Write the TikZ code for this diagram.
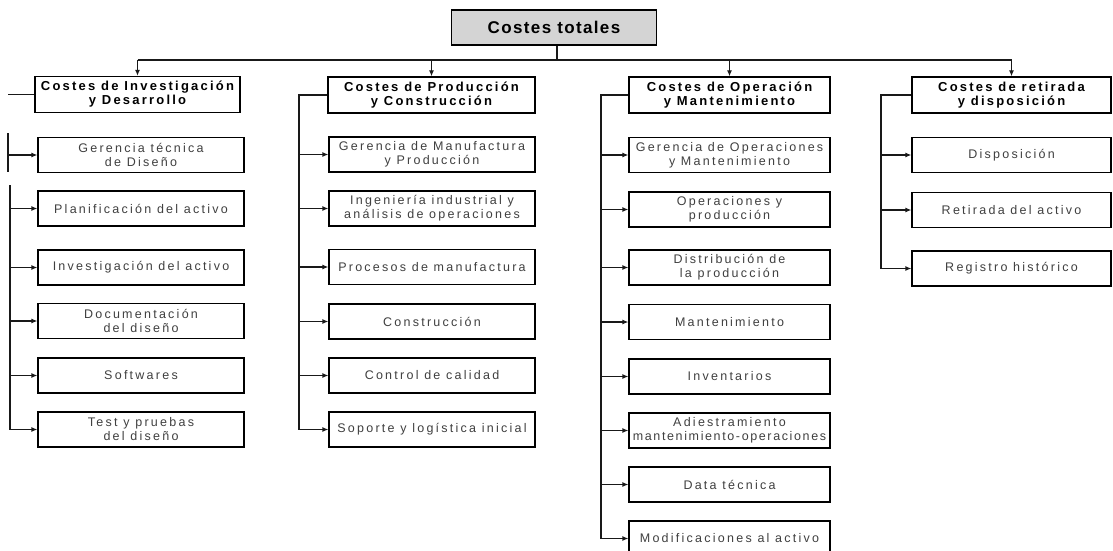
\documentclass[tikz,border=0pt]{standalone}
\usepackage{fontspec}
\setmainfont{Liberation Sans}
\newfontfamily\rootfont[LetterSpace=8]{Liberation Sans}
\newfontfamily\hdfont[LetterSpace=17]{Liberation Sans}
\newfontfamily\itfont[LetterSpace=18]{Liberation Sans}
\usetikzlibrary{arrows.meta}

\tikzset{
  topbox/.style={draw, line width=1.3pt, fill=black!17, inner sep=0pt,
    minimum width=205pt, minimum height=35pt,
    font=\rootfont\bfseries\fontsize{17}{19}\selectfont},
  headbox/.style={draw, line width=1.3pt, fill=white, inner sep=0pt,
    minimum height=36pt, align=center,
    font=\hdfont\bfseries\fontsize{13}{14}\selectfont},
  itembox/.style={draw, line width=1.2pt, fill=white, inner sep=0pt,
    minimum height=35pt, align=center, text=black!75,
    font=\itfont\fontsize{12.5}{14}\selectfont},
  conn/.style={line width=1.8pt, black!90},
  arr/.style={conn, -{Latex[length=6pt,width=5pt]}},
}

\begin{document}
\begin{tikzpicture}[x=1pt,y=-1pt]
\useasboundingbox (0,0) rectangle (1113,550);
\clip (0,0) rectangle (1113,550);

% root
\node[topbox] (top) at (554,27.5) {Costes totales};

% column headers
\node[headbox, minimum width=205pt] (h1) at (137.5,94.5) {Costes de Investigación\\y Desarrollo};
\node[headbox, minimum width=207pt] (h2) at (431.5,95) {Costes de Producción\\y Construcción};
\node[headbox, minimum width=201pt] (h3) at (729.5,95) {Costes de Operación\\y Mantenimiento};
\node[headbox, minimum width=199pt] (h4) at (1011.5,95) {Costes de retirada\\y disposición};

% column 1 items
\begin{scope}[every node/.style={itembox, minimum width=206pt}]
\node (c1a) at (141,155) {Gerencia técnica\\de Diseño};
\node (c1b) at (141,208.5) {Planificación del activo};
\node (c1c) at (141,267.5) {Investigación del activo};
\node (c1d) at (141,321) {Documentación\\del diseño};
\node (c1e) at (141,375.5) {Softwares};
\node (c1f) at (141,429.5) {Test y pruebas\\del diseño};
\end{scope}

% column 2 items
\begin{scope}[every node/.style={itembox, minimum width=206pt}]
\node (c2a) at (432,154.5) {Gerencia de Manufactura\\y Producción};
\node (c2b) at (432,208.5) {Ingeniería industrial y\\análisis de operaciones};
\node (c2c) at (432,267) {Procesos de manufactura};
\node (c2d) at (432,321.5) {Construcción};
\node (c2e) at (432,375.5) {Control de calidad};
\node (c2f) at (432,429.5) {Soporte y logística inicial};
\end{scope}

% column 3 items
\begin{scope}[every node/.style={itembox, minimum width=201pt}]
\node (c3a) at (729.5,155) {Gerencia de Operaciones\\y Mantenimiento};
\node (c3b) at (729.5,209.5) {Operaciones y\\producción};
\node (c3c) at (729.5,267.5) {Distribución de\\la producción};
\node (c3d) at (729.5,322) {Mantenimiento};
\node (c3e) at (729.5,376.5) {Inventarios};
\node (c3f) at (729.5,430.5) {Adiestramiento\\{\addfontfeature{LetterSpace=13}mantenimiento-operaciones}};
\node (c3g) at (729.5,484.5) {Data técnica};
\node (c3h) at (729.5,538.5) {Modificaciones al activo};
\end{scope}

% column 4 items
\begin{scope}[every node/.style={itembox, minimum width=199pt}]
\node (c4a) at (1011.5,155) {Disposición};
\node (c4b) at (1011.5,210) {Retirada del activo};
\node (c4c) at (1011.5,268.5) {Registro histórico};
\end{scope}

% main bus
\coordinate (bus) at (557,60);
\draw[conn] (top.south -| bus) -- (bus);
\draw[conn] (h1.north |- bus) -- (h4.north |- bus);
\foreach \h in {h1,h2,h3,h4}
  \draw[arr] (\h.north |- bus) -- (\h.north);

% column 1 spine (broken in two pieces)
\coordinate (s1) at (8,0);
\coordinate (v1a) at (8,133);
\coordinate (v1b) at (8,172);
\coordinate (v1c) at (10,185);
\draw[conn] (h1.west) -- (h1.west -| s1);
\draw[conn] (v1a) -- (v1b);
\draw[arr] (c1a.west -| v1a) -- (c1a.west);
\draw[conn] (v1c) -- (c1f.west -| v1c);
\foreach \c in {c1b,c1c,c1d,c1e,c1f}
  \draw[arr] (\c.west -| v1c) -- (\c.west);

% column 2 spine
\coordinate (v2) at (299,0);
\draw[conn] (h2.west) -- (h2.west -| v2) -- (c2f.west -| v2);
\foreach \c in {c2a,c2b,c2c,c2d,c2e,c2f}
  \draw[arr] (\c.west -| v2) -- (\c.west);

% column 3 spine
\coordinate (v3) at (601,0);
\draw[conn] (h3.west) -- (h3.west -| v3) -- (c3h.west -| v3);
\foreach \c in {c3a,c3b,c3c,c3d,c3e,c3f,c3g,c3h}
  \draw[arr] (\c.west -| v3) -- (\c.west);

% column 4 spine
\coordinate (v4) at (881,0);
\draw[conn] (h4.west) -- (h4.west -| v4) -- (c4c.west -| v4);
\foreach \c in {c4a,c4b,c4c}
  \draw[arr] (\c.west -| v4) -- (\c.west);
\end{tikzpicture}
\end{document}
